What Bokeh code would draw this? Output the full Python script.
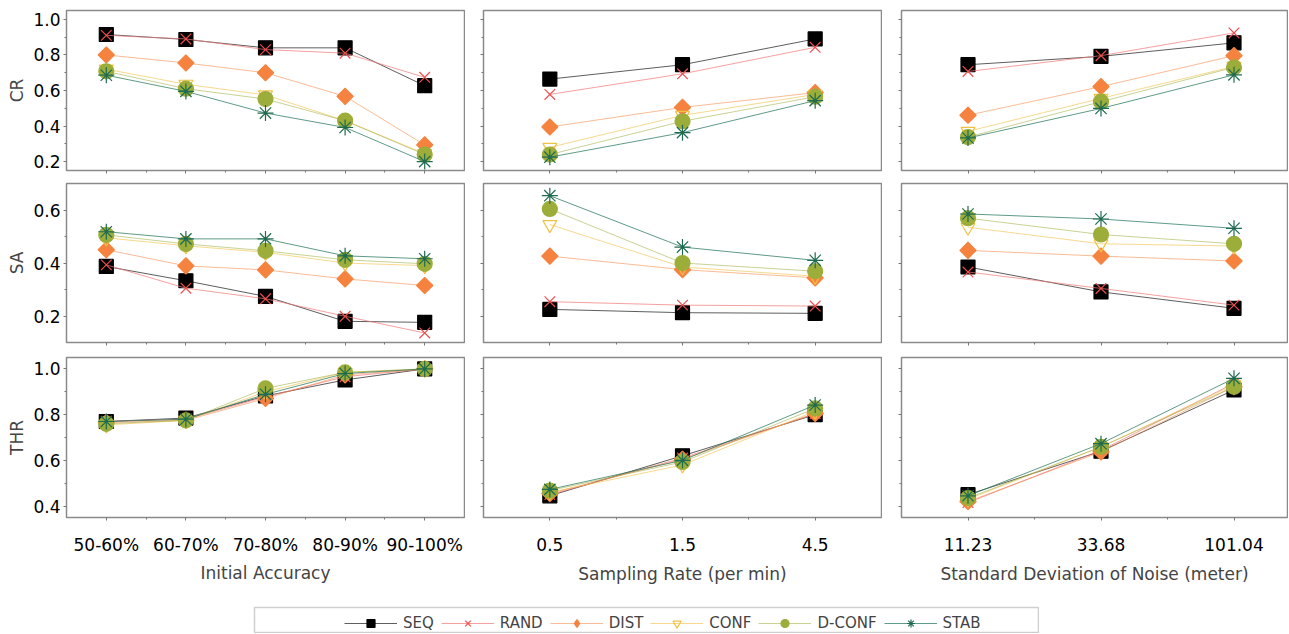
from bokeh.plotting import figure
from bokeh.layouts import column, row, Spacer
from bokeh.models import Range1d, FixedTicker, PrintfTickFormatter, Legend, LegendItem
from bokeh.embed import file_html
from bokeh.resources import INLINE
import math

FONT = "DejaVu Sans"

series = ["SEQ", "RAND", "DIST", "CONF", "D-CONF", "STAB"]

ia_cats = ["50-60%", "60-70%", "70-80%", "80-90%", "90-100%"]
sr_cats = ["0.5", "1.5", "4.5"]
sd_cats = ["11.23", "33.68", "101.04"]

cr_ia = {
    "SEQ": [0.915, 0.887, 0.84, 0.84, 0.627],
    "RAND": [0.91, 0.89, 0.83, 0.81, 0.674],
    "DIST": [0.80, 0.755, 0.70, 0.567, 0.294],
    "CONF": [0.72, 0.635, 0.575, 0.43, 0.245],
    "D-CONF": [0.708, 0.61, 0.552, 0.43, 0.24],
    "STAB": [0.686, 0.595, 0.473, 0.392, 0.20],
}
cr_sr = {
    "SEQ": [0.664, 0.745, 0.89],
    "RAND": [0.578, 0.694, 0.843],
    "DIST": [0.395, 0.505, 0.588],
    "CONF": [0.28, 0.46, 0.578],
    "D-CONF": [0.24, 0.427, 0.565],
    "STAB": [0.225, 0.363, 0.543],
}
cr_sd = {
    "SEQ": [0.745, 0.792, 0.868],
    "RAND": [0.707, 0.796, 0.924],
    "DIST": [0.461, 0.622, 0.796],
    "CONF": [0.37, 0.556, 0.735],
    "D-CONF": [0.338, 0.537, 0.73],
    "STAB": [0.333, 0.499, 0.688],
}
sa_ia = {
    "SEQ": [0.387, 0.333, 0.274, 0.18, 0.176],
    "RAND": [0.393, 0.305, 0.265, 0.199, 0.136],
    "DIST": [0.45, 0.389, 0.374, 0.34, 0.315],
    "CONF": [0.495, 0.465, 0.44, 0.40, 0.39],
    "D-CONF": [0.506, 0.472, 0.446, 0.412, 0.397],
    "STAB": [0.518, 0.491, 0.491, 0.427, 0.416],
}
sa_sr = {
    "SEQ": [0.225, 0.2125, 0.21],
    "RAND": [0.254, 0.241, 0.2375],
    "DIST": [0.426, 0.375, 0.344],
    "CONF": [0.545, 0.385, 0.35],
    "D-CONF": [0.604, 0.40, 0.369],
    "STAB": [0.654, 0.46, 0.41],
}
sa_sd = {
    "SEQ": [0.385, 0.291, 0.229],
    "RAND": [0.366, 0.304, 0.241],
    "DIST": [0.4475, 0.426, 0.4075],
    "CONF": [0.535, 0.4725, 0.464],
    "D-CONF": [0.569, 0.5075, 0.4725],
    "STAB": [0.585, 0.566, 0.531],
}
thr_ia = {
    "SEQ": [0.77, 0.785, 0.882, 0.952, 1.0],
    "RAND": [0.77, 0.78, 0.878, 0.966, 1.0],
    "DIST": [0.765, 0.775, 0.871, 0.974, 1.0],
    "CONF": [0.755, 0.775, 0.90, 0.985, 1.0],
    "D-CONF": [0.76, 0.775, 0.915, 0.985, 1.0],
    "STAB": [0.77, 0.78, 0.889, 0.98, 1.0],
}
thr_sr = {
    "SEQ": [0.445, 0.62, 0.80],
    "RAND": [0.45, 0.61, 0.805],
    "DIST": [0.455, 0.605, 0.805],
    "CONF": [0.46, 0.58, 0.815],
    "D-CONF": [0.468, 0.593, 0.827],
    "STAB": [0.473, 0.60, 0.842],
}
thr_sd = {
    "SEQ": [0.45, 0.64, 0.908],
    "RAND": [0.415, 0.644, 0.937],
    "DIST": [0.42, 0.637, 0.922],
    "CONF": [0.43, 0.659, 0.93],
    "D-CONF": [0.435, 0.659, 0.922],
    "STAB": [0.445, 0.673, 0.959],
}

row_labels = ["CR", "SA", "THR"]
col_titles = ["Initial Accuracy", "Sampling Rate (per min)", "Standard Deviation of Noise (meter)"]

STY = {
    "SEQ": dict(marker="square", size=14, fill_color="black", line_color="black", angle=0, lc="#4d4d4d", la=0.9),
    "RAND": dict(marker="x", size=15, fill_color=None, line_color="#f04e4e", angle=0, lc="#f47878", la=0.7),
    "DIST": dict(marker="square", size=11.5, fill_color="#f5833f", line_color="#f5833f", angle=math.pi / 4, lc="#f5833f", la=0.55),
    "CONF": dict(marker="inverted_triangle", size=14, fill_color=None, line_color="#f2c043", angle=0, lc="#f2c043", la=0.6),
    "D-CONF": dict(marker="circle", size=15, fill_color="#9cad3a", line_color="#9cad3a", angle=0, lc="#9cad3a", la=0.55),
    "STAB": dict(marker="asterisk", size=16, fill_color=None, line_color="#1f6b4f", angle=0, lc="#2a7a5c", la=0.75),
}

YCFG = [
    dict(rng=(0.15, 1.05), ticks=[0.2, 0.4, 0.6, 0.8, 1.0], minor=[0.3, 0.5, 0.7, 0.9]),
    dict(rng=(0.10, 0.70), ticks=[0.2, 0.4, 0.6], minor=[0.3, 0.5]),
    dict(rng=(0.35, 1.05), ticks=[0.4, 0.6, 0.8, 1.0], minor=[0.5, 0.7, 0.9]),
]
COLCFG = [
    dict(left=66, frame=398, xr=(-0.5, 4.5), lstand=14, tstand=5),
    dict(left=18, frame=398, xr=(-0.5, 2.5), lstand=17, tstand=10),
    dict(left=19, frame=386, xr=(-0.5, -0.5 + 386 / 133.0), lstand=17, tstand=10),
]
ROWCFG = [
    dict(top=10, frame=160, bottom=6),
    dict(top=7, frame=159, bottom=7),
    dict(top=8, frame=160, bottom=88),
]

panels = [
    [(ia_cats, cr_ia), (sr_cats, cr_sr), (sd_cats, cr_sd)],
    [(ia_cats, sa_ia), (sr_cats, sa_sr), (sd_cats, sa_sd)],
    [(ia_cats, thr_ia), (sr_cats, thr_sr), (sd_cats, thr_sd)],
]

TICKC = "#777777"


def make_panel(ri, ci):
    cats, data = panels[ri][ci]
    cc, rc, yc = COLCFG[ci], ROWCFG[ri], YCFG[ri]
    p = figure(
        width=cc["left"] + cc["frame"] + 1,
        height=rc["top"] + rc["frame"] + rc["bottom"],
        min_border_left=cc["left"], min_border_right=1,
        min_border_top=rc["top"], min_border_bottom=rc["bottom"],
        x_range=Range1d(*cc["xr"]), y_range=Range1d(*yc["rng"]),
        toolbar_location=None, output_backend="svg",
    )
    p.grid.visible = False
    p.outline_line_color = "#8a8a8a"
    p.outline_line_width = 1.5
    p.background_fill_color = "white"
    p.border_fill_color = "white"
    xs = list(range(len(cats)))
    for s in series:
        st = STY[s]
        p.line(xs, data[s], line_color=st["lc"], line_alpha=st["la"], line_width=1)
        p.scatter(xs, data[s], marker=st["marker"], size=st["size"], fill_color=st["fill_color"],
                  line_color=st["line_color"], angle=st["angle"], line_width=1.2)
    # x axis
    xa = p.xaxis[0]
    xa.ticker = FixedTicker(ticks=xs, minor_ticks=[x + 0.5 for x in xs[:-1]])
    xa.axis_line_color = None
    xa.major_tick_line_color = TICKC
    xa.minor_tick_line_color = TICKC
    xa.major_tick_in = 0
    xa.major_tick_out = 3
    xa.minor_tick_in = 0
    xa.minor_tick_out = 2
    if ri == 2:
        xa.major_label_overrides = {i: c for i, c in enumerate(cats)}
        xa.major_label_text_font = FONT
        xa.major_label_text_font_size = "17px"
        xa.major_label_text_color = "black"
        xa.major_label_standoff = cc["lstand"]
        xa.axis_label = col_titles[ci]
        xa.axis_label_text_font = FONT
        xa.axis_label_text_font_size = "17px"
        xa.axis_label_text_font_style = "normal"
        xa.axis_label_standoff = cc["tstand"]
    else:
        xa.major_label_text_font_size = "1px"
        xa.major_label_text_color = None
        xa.major_label_standoff = 0
    # y axis
    ya = p.yaxis[0]
    ya.ticker = FixedTicker(ticks=yc["ticks"], minor_ticks=yc["minor"])
    ya.axis_line_color = None
    ya.major_tick_line_color = TICKC
    ya.minor_tick_line_color = TICKC
    ya.major_tick_in = 0
    ya.major_tick_out = 3
    ya.minor_tick_in = 0
    ya.minor_tick_out = 2
    if ci == 0:
        ya.formatter = PrintfTickFormatter(format="%.1f")
        ya.major_label_text_font = FONT
        ya.major_label_text_font_size = "17px"
        ya.major_label_text_color = "black"
        ya.major_label_standoff = 3
        ya.axis_label = row_labels[ri]
        ya.axis_label_text_font = FONT
        ya.axis_label_text_font_size = "17px"
        ya.axis_label_text_font_style = "normal"
        ya.axis_label_standoff = 3
    else:
        ya.major_label_text_font_size = "1px"
        ya.major_label_text_color = None
        ya.major_label_standoff = 0
    return p


rows = []
for ri in range(3):
    rows.append(row(*[make_panel(ri, ci) for ci in range(3)]))

# legend strip: its renderers reuse one panel's data but sit outside the strip's visible range
lf = figure(width=786, height=28, min_border_left=1, min_border_right=1, min_border_top=2,
            min_border_bottom=0, x_range=Range1d(100, 101), y_range=Range1d(100, 101),
            toolbar_location=None, output_backend="svg")
lf.axis.visible = False
lf.grid.visible = False
lf.outline_line_color = "#cfcfcf"
lf.outline_line_width = 1.5
items = []
lx = list(range(len(ia_cats)))
for s in series:
    st = STY[s]
    mk = "diamond" if s == "DIST" else st["marker"]
    msz = 18 if s == "DIST" else st["size"]
    r1 = lf.line(lx, thr_ia[s], line_color=st["lc"], line_alpha=st["la"], line_width=1)
    r2 = lf.scatter(lx, thr_ia[s], marker=mk, size=msz, fill_color=st["fill_color"],
                    line_color=st["line_color"], line_width=1.2)
    items.append(LegendItem(label=s, renderers=[r1, r2]))
leg = Legend(items=items, orientation="horizontal", location=(90, 0), glyph_width=53, glyph_height=20,
             label_height=20, label_standoff=6, spacing=7, padding=0, margin=0,
             border_line_color=None, background_fill_alpha=0,
             label_text_font=FONT, label_text_font_size="15px")
lf.add_layout(leg)

layout = column(*rows, row(Spacer(width=253, height=28), lf))

open("out.html", "w").write(file_html(layout, INLINE))
